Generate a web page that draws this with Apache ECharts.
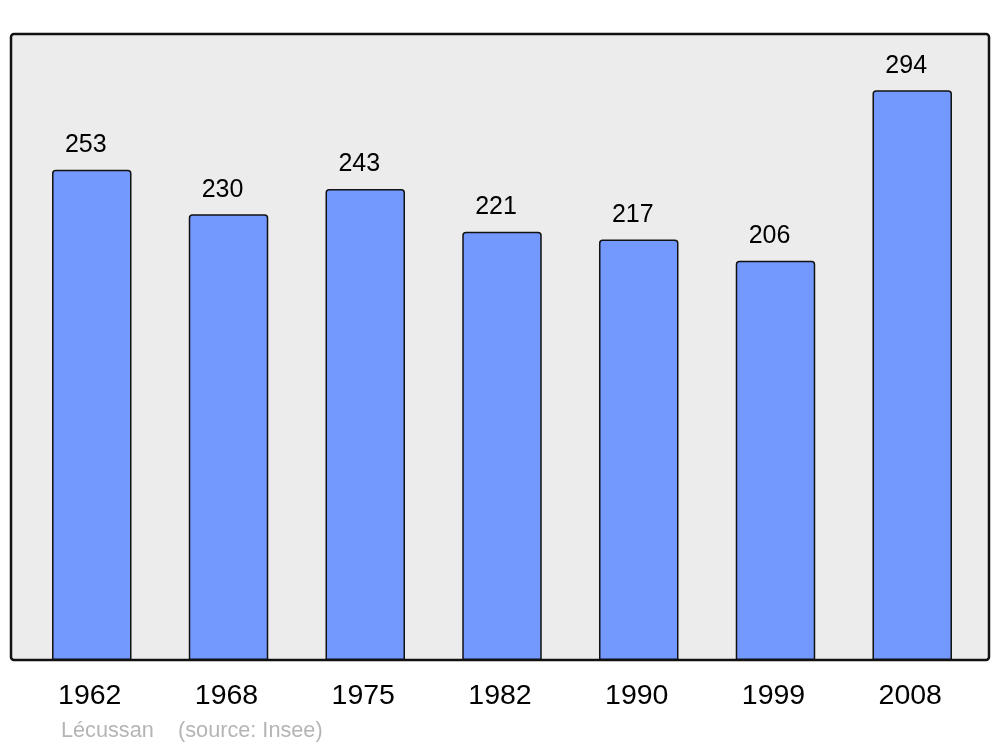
<!DOCTYPE html>
<html><head><meta charset="utf-8">
<script src="https://cdn.jsdelivr.net/npm/echarts@6/dist/echarts.min.js"></script>
<style>html,body{margin:0;padding:0;background:#fff}#c{width:1000px;height:747px}</style>
</head><body><div id="c"></div>
<script>
const years = ['1962','1968','1975','1982','1990','1999','2008'];
const population = [253,230,243,221,217,206,294];
const townName = 'Lécussan';
const sourceText = '(source: Insee)';

const chart = echarts.init(document.getElementById('c'), null, {renderer:'canvas'});
chart.setOption({
  animation:false,
  backgroundColor:'#ffffff',
  graphic:[
    {type:'rect', z:-10, shape:{x:11,y:34,width:978,height:626,r:3},
     style:{fill:'#ececec',stroke:'#111',lineWidth:2.5}},
    {type:'text', left:61, top:720, style:{text:townName,fill:'#b5b5b5',font:'21.7px "Liberation Sans", Arial, sans-serif'}},
    {type:'text', left:178, top:720, style:{text:sourceText,fill:'#b5b5b5',font:'21.7px "Liberation Sans", Arial, sans-serif'}}
  ],
  grid:{left:23.4,right:19.4,top:34,bottom:87},
  xAxis:{type:'category',data:years,
    axisLine:{show:false},axisTick:{show:false},
    axisLabel:{color:'#000',fontSize:28.5,fontFamily:'"Liberation Sans", Arial, sans-serif',margin:22,padding:[0,4,0,0]}},
  yAxis:{type:'value',min:0,max:323,show:false,splitLine:{show:false}},
  series:[{type:'bar',data:population,barWidth:79.5,
    itemStyle:{color:'#7399ff',borderColor:'#111',borderWidth:1.5,borderRadius:[3,3,0,0]},
    label:{show:true,position:'top',distance:12,offset:[-6,0],color:'#000',fontSize:25,
      fontFamily:'"Liberation Sans", Arial, sans-serif'}}]
});
</script></body></html>
